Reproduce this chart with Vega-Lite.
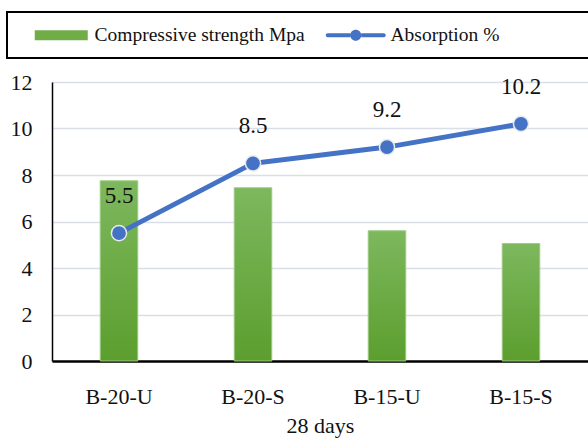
{
  "$schema": "https://vega.github.io/schema/vega-lite/v6.json",
  "autosize": "none",
  "width": 536,
  "height": 279,
  "padding": {"left": 52, "top": 82, "right": 0, "bottom": 83},
  "background": "white",
  "config": {
    "font": "Liberation Serif",
    "view": {"stroke": null}
  },
  "data": {
    "values": [
      {"mix": "B-20-U", "strength": 7.75, "absorption": 5.5},
      {"mix": "B-20-S", "strength": 7.45, "absorption": 8.5},
      {"mix": "B-15-U", "strength": 5.6, "absorption": 9.2},
      {"mix": "B-15-S", "strength": 5.05, "absorption": 10.2}
    ]
  },
  "encoding": {
    "x": {
      "field": "mix",
      "type": "nominal",
      "sort": null,
      "scale": {"paddingInner": 0.72, "paddingOuter": 0.36},
      "axis": {
        "title": "28 days",
        "titleFont": "Liberation Serif",
        "titleFontSize": 22,
        "titleFontWeight": "normal",
        "titleColor": "#111111",
        "titlePadding": 8,
        "labelAngle": 0,
        "labelFont": "Liberation Serif",
        "labelFontSize": 22,
        "labelColor": "#111111",
        "labelPadding": 25,
        "ticks": false,
        "domainColor": "#000000",
        "domainWidth": 2.5
      }
    }
  },
  "layer": [
    {
      "mark": {
        "type": "bar",
        "color": {
          "gradient": "linear",
          "x1": 0, "y1": 0, "x2": 0, "y2": 1,
          "stops": [
            {"offset": 0, "color": "#7db85e"},
            {"offset": 1, "color": "#5c9e2e"}
          ]
        },
        "stroke": "#9cc97f",
        "strokeWidth": 1
      },
      "encoding": {
        "y": {
          "field": "strength",
          "type": "quantitative",
          "scale": {"domain": [0, 12], "nice": false},
          "axis": {
            "title": null,
            "values": [0, 2, 4, 6, 8, 10, 12],
            "labelFont": "Liberation Serif",
            "labelFontSize": 22,
            "labelColor": "#111111",
            "labelPadding": 20,
            "ticks": false,
            "domainColor": "#000000",
            "domainWidth": 1.5,
            "gridColor": "#d9dee8",
            "gridWidth": 1.5
          }
        }
      }
    },
    {
      "mark": {
        "type": "line",
        "strokeWidth": 5,
        "point": {"filled": true, "size": 230, "stroke": "#e6e9ef", "strokeWidth": 1.5}
      },
      "encoding": {
        "y": {"field": "absorption", "type": "quantitative"},
        "color": {
          "datum": "Absorption %",
          "scale": {
            "domain": ["Compressive strength Mpa", "Absorption %"],
            "range": ["#70ad47", "#4472c4"]
          },
          "legend": {
            "orient": "none",
            "legendX": -45,
            "legendY": -70,
            "direction": "horizontal",
            "title": null,
            "padding": 13,
            "strokeColor": "#000000",
            "fillColor": "#ffffff",
            "columnPadding": 16,
            "symbolSize": 100,
            "labelOffset": 50,
            "labelFont": "Liberation Serif",
            "labelFontSize": 19.5,
            "labelColor": "#111111",
            "labelLimit": 400,
            "encode": {
              "legend": {"update": {"strokeWidth": {"value": 2}}},
              "symbols": {
                "update": {
                  "shape": {"signal": "datum.value === 'Absorption %' ? 'M-0.6,-0.4H3.9V0.4H-0.6A0.4,0.4 0 0,1 -0.6,-0.4Z M6.1,-0.4H10.6A0.4,0.4 0 0,1 10.6,0.4H6.1Z M6.1,0A1.1,1.1 0 1,0 3.9,0A1.1,1.1 0 1,0 6.1,0Z M49.4,0L49.4,0.01' : 'M1,-1H11.6V1H1Z'"},
                  "fill": {"signal": "datum.value === 'Absorption %' ? '#4472c4' : '#70ad47'"},
                  "stroke": {"value": "transparent"},
                  "strokeWidth": {"value": 0},
                  "opacity": {"value": 1}
                }
              },
              "labels": {
                "update": {
                  "dx": {"signal": "datum.value === 'Absorption %' ? 0 : 5"}
                }
              }
            }
          }
        }
      }
    },
    {
      "mark": {
        "type": "text",
        "dy": -37,
        "font": "Liberation Serif",
        "fontSize": 23,
        "color": "#111111"
      },
      "encoding": {
        "y": {"field": "absorption", "type": "quantitative"},
        "text": {"field": "absorption", "type": "quantitative", "format": ".1f"}
      }
    }
  ]
}
